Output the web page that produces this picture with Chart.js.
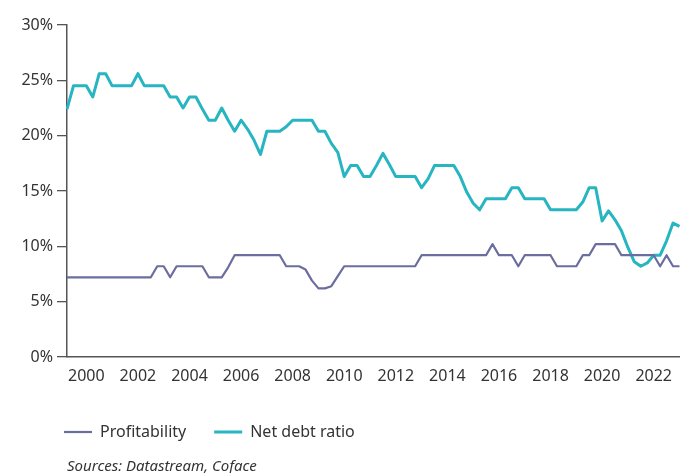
<!DOCTYPE html>
<html>
<head>
<meta charset="utf-8">
<script src="https://cdn.jsdelivr.net/npm/chart.js@4.4.1/dist/chart.umd.min.js"></script>
<style>
  html, body { margin: 0; padding: 0; overflow: hidden; background: #ffffff; width: 680px; height: 473px; }
  #wrap { position: relative; width: 682px; height: 476px; }
</style>
</head>
<body>
<div id="wrap"><canvas id="c" width="682" height="476"></canvas></div>
<script>
// ---- data (quarterly, first period 1999 Q2) ----
const firstYear = 1999;
const firstQuarter = 2;

const profitability = [
  7.2, 7.2, 7.2, 7.2, 7.2, 7.2, 7.2, 7.2, 7.2, 7.2, 7.2, 7.2, 7.2, 7.2,
  8.2, 8.2, 7.2, 8.2, 8.2, 8.2, 8.2, 8.2, 7.2, 7.2, 7.2, 8.1,
  9.2, 9.2, 9.2, 9.2, 9.2, 9.2, 9.2, 9.2,
  8.2, 8.2, 8.2, 7.9, 6.9, 6.2, 6.2, 6.4, 7.3,
  8.2, 8.2, 8.2, 8.2, 8.2, 8.2, 8.2, 8.2, 8.2, 8.2, 8.2, 8.2,
  9.2, 9.2, 9.2, 9.2, 9.2, 9.2, 9.2, 9.2, 9.2, 9.2, 9.2,
  10.2, 9.2, 9.2, 9.2, 8.2, 9.2, 9.2, 9.2, 9.2, 9.2,
  8.2, 8.2, 8.2, 8.2, 9.2, 9.2, 10.2, 10.2, 10.2, 10.2,
  9.2, 9.2, 9.2, 9.2, 9.2, 9.2, 8.2, 9.2, 8.2, 8.2
];

const netDebtRatio = [
  22.4, 24.5, 24.5, 24.5, 23.5, 25.6, 25.6, 24.5, 24.5, 24.5,
  24.5, 25.6, 24.5, 24.5, 24.5, 24.5, 23.5, 23.5, 22.5, 23.5,
  23.5, 22.4, 21.4, 21.4, 22.5, 21.4, 20.4, 21.4, 20.6, 19.6,
  18.3, 20.4, 20.4, 20.4, 20.8, 21.4, 21.4, 21.4, 21.4, 20.4,
  20.4, 19.3, 18.5, 16.3, 17.3, 17.3, 16.3, 16.3, 17.3, 18.4,
  17.4, 16.3, 16.3, 16.3, 16.3, 15.3, 16.1, 17.3, 17.3, 17.3,
  17.3, 16.3, 14.9, 13.9, 13.3, 14.3, 14.3, 14.3, 14.3, 15.3,
  15.3, 14.3, 14.3, 14.3, 14.3, 13.3, 13.3, 13.3, 13.3, 13.3,
  14.0, 15.3, 15.3, 12.3, 13.2, 12.4, 11.4, 9.9, 8.6, 8.2,
  8.5, 9.2, 9.2, 10.5, 12.1, 11.8
];

const yearTicks = ['2000', '2002', '2004', '2006', '2008', '2010', '2012', '2014', '2016', '2018', '2020', '2022'];
const seriesNames = ['Profitability', 'Net debt ratio'];
const sourceNote = 'Sources: Datastream, Coface';

// category labels built from the first period
const quarterLabels = profitability.map((_, i) => {
  const q = firstQuarter - 1 + i;
  return (firstYear + Math.floor(q / 4)) + ' Q' + (q % 4 + 1);
});

const FONT = 'Noto Sans';
const TEXT = '#333333';
const AXIS = '#555555';

// place the legend row so that it starts just left of the plot area
const legendOffset = {
  id: 'legendOffset',
  afterLayout(chart) {
    const lg = chart.legend;
    if (!lg) return;
    const pad = lg.options.labels.padding;
    const shift = (chart.chartArea.left - 3) - (lg.left + pad);
    lg.left += shift;
    lg.right += shift;
  }
};

new Chart(document.getElementById('c'), {
  type: 'line',
  data: {
    labels: quarterLabels,
    datasets: [
      {
        label: seriesNames[0],
        data: profitability,
        borderColor: '#6b6d9f',
        backgroundColor: '#6b6d9f',
        borderWidth: 2.2,
        pointRadius: 0,
        tension: 0,
        borderJoinStyle: 'round'
      },
      {
        label: seriesNames[1],
        data: netDebtRatio,
        borderColor: '#26b5c1',
        backgroundColor: '#26b5c1',
        borderWidth: 3,
        pointRadius: 0,
        tension: 0,
        borderJoinStyle: 'round'
      }
    ]
  },
  options: {
    responsive: false,
    animation: false,
    layout: { padding: { left: 0, right: 0, top: 25, bottom: 0 } },
    scales: {
      x: {
        type: 'category',
        offset: false,
        grid: { display: false, drawTicks: false },
        border: { display: true, color: AXIS, width: 1.5 },
        ticks: {
          autoSkip: false,
          maxRotation: 0,
          padding: 10,
          color: TEXT,
          font: { family: FONT, size: 16 },
          callback: function (value) {
            const parts = quarterLabels[value].split(' Q');
            return (parts[1] === '1' && yearTicks.includes(parts[0])) ? parts[0] : null;
          }
        },
        afterFit: function (scale) { scale.height = 39; }
      },
      y: {
        min: 0,
        max: 30,
        grid: { drawOnChartArea: false, drawTicks: true, tickLength: 10, color: AXIS, lineWidth: 1.3 },
        border: { display: true, color: AXIS, width: 1.5 },
        ticks: {
          stepSize: 5,
          padding: 4,
          color: TEXT,
          font: { family: FONT, size: 16 },
          callback: function (v) { return v + '%'; }
        },
        afterFit: function (scale) { scale.width = 67; }
      }
    },
    plugins: {
      tooltip: { enabled: false },
      legend: {
        display: true,
        position: 'bottom',
        align: 'start',
        labels: {
          usePointStyle: true,
          pointStyle: 'line',
          pointStyleWidth: 28,
          padding: 28,
          color: TEXT,
          font: { family: FONT, size: 16 }
        }
      },
      subtitle: {
        display: true,
        text: sourceNote,
        position: 'bottom',
        align: 'start',
        fullSize: false,
        color: TEXT,
        font: { family: FONT, size: 15, style: 'italic', weight: 'normal' },
        padding: { top: 8, bottom: 0 }
      }
    }
  },
  plugins: [legendOffset]
});
</script>
</body>
</html>
